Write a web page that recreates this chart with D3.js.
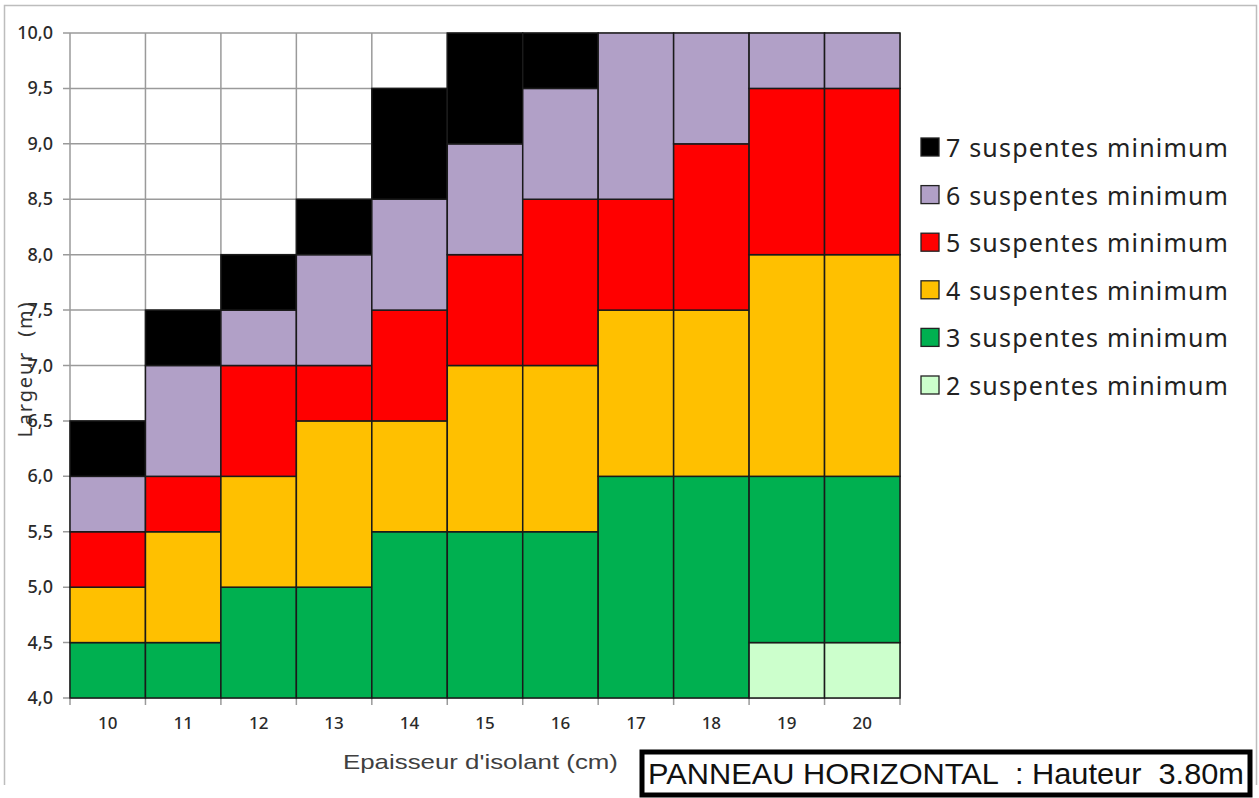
<!DOCTYPE html>
<html><head><meta charset="utf-8">
<script src="https://cdn.jsdelivr.net/npm/d3@7"></script>
<style>body{margin:0;background:#fff}svg{display:block}</style>
</head><body>
<svg id="c" width="1259" height="798"></svg>
<script>
// Data: épaisseur d'isolant (cm) and the upper limit of largeur (m) for each minimum number of suspentes
const thickness = [10, 11, 12, 13, 14, 15, 16, 17, 18, 19, 20];
const top2 = [4.0, 4.0, 4.0, 4.0, 4.0, 4.0, 4.0, 4.0, 4.0, 4.5, 4.5];
const top3 = [4.5, 4.5, 5.0, 5.0, 5.5, 5.5, 5.5, 6.0, 6.0, 6.0, 6.0];
const top4 = [5.0, 5.5, 6.0, 6.5, 6.5, 7.0, 7.0, 7.5, 7.5, 8.0, 8.0];
const top5 = [5.5, 6.0, 7.0, 7.0, 7.5, 8.0, 8.5, 8.5, 9.0, 9.5, 9.5];
const top6 = [6.0, 7.0, 7.5, 8.0, 8.5, 9.0, 9.5, 10.0, 10.0, 10.0, 10.0];
const top7 = [6.5, 7.5, 8.0, 8.5, 9.5, 10.0, 10.0, 10.0, 10.0, 10.0, 10.0];
const yTicks = [4.0, 4.5, 5.0, 5.5, 6.0, 6.5, 7.0, 7.5, 8.0, 8.5, 9.0, 9.5, 10.0];
const seriesNames = ["7 suspentes minimum", "6 suspentes minimum", "5 suspentes minimum", "4 suspentes minimum", "3 suspentes minimum", "2 suspentes minimum"];
const seriesColors = ["#000000", "#b1a0c7", "#ff0000", "#ffc000", "#00b050", "#ccffcc"];

const svg = d3.select("#c");
const m = {l: 70, r: 900, t: 33, b: 698};
const font = "'Noto Sans', 'Open Sans', sans-serif";

// outer frame
svg.append("path").attr("d", `M4.5,785 V5.5 H1256.5 V785`).attr("fill", "none").attr("stroke", "#bdbdbd").attr("stroke-width", 1.5);

const x = d3.scaleBand().domain(thickness).range([m.l, m.r]).padding(0);
const y = d3.scaleLinear().domain([4, 10]).range([m.b, m.t]);

// gridlines
const g = svg.append("g");
g.selectAll("line.h").data(yTicks).join("line")
  .attr("x1", m.l - 7).attr("x2", m.r).attr("y1", d => y(d)).attr("y2", d => y(d))
  .attr("stroke", "#9a9a9a").attr("stroke-width", 1.5);
const vb = thickness.map(t => x(t)).concat([m.r]);
g.selectAll("line.v").data(vb).join("line")
  .attr("x1", d => d).attr("x2", d => d).attr("y1", m.t).attr("y2", m.b + 7)
  .attr("stroke", "#9a9a9a").attr("stroke-width", 1.5);

// segments
const order = [top2, top3, top4, top5, top6, top7];
const cols = ["#ccffcc", "#00b050", "#ffc000", "#ff0000", "#b1a0c7", "#000000"];
const segs = [];
thickness.forEach((t, i) => {
  let prev = 4.0;
  order.forEach((arr, k) => {
    const v = arr[i];
    if (v > prev) segs.push({t, lo: prev, hi: v, c: cols[k]});
    prev = Math.max(prev, v);
  });
});
svg.append("g").selectAll("rect").data(segs).join("rect")
  .attr("x", d => x(d.t)).attr("width", x.bandwidth())
  .attr("y", d => y(d.hi)).attr("height", d => y(d.lo) - y(d.hi))
  .attr("fill", d => d.c).attr("stroke", "#1a1a1a").attr("stroke-width", 1.5);

// y tick labels
svg.append("g").selectAll("text").data(yTicks).join("text")
  .attr("x", 53).attr("y", d => y(d) + 6).attr("text-anchor", "end")
  .attr("font-family", font).attr("font-size", 18).attr("font-weight", 500).attr("fill", "#2a2a2a")
  .text(d => d3.format(".1f")(d).replace(".", ","));

// x tick labels
svg.append("g").selectAll("text").data(thickness).join("text")
  .attr("x", d => x(d) + x.bandwidth() / 2).attr("y", 729).attr("text-anchor", "middle")
  .attr("font-family", font).attr("font-size", 17).attr("font-weight", 500).attr("fill", "#2a2a2a")
  .text(d => d);

// axis titles
svg.append("text").attr("x", 343).attr("y", 769)
  .attr("font-family", "'Liberation Sans', Arial, sans-serif").attr("font-size", 21).attr("fill", "#404040")
  .attr("textLength", 275).attr("lengthAdjust", "spacingAndGlyphs")
  .text("Epaisseur d'isolant (cm)");
svg.append("text").attr("transform", "translate(32,370) rotate(-90)").attr("text-anchor", "middle")
  .attr("font-family", font).attr("font-size", 20).attr("fill", "#333")
  .attr("textLength", 135).attr("lengthAdjust", "spacing")
  .style("white-space", "pre")
  .text("Largeur  (m)");

// legend
const lg = svg.append("g").selectAll("g").data(seriesNames).join("g")
  .attr("transform", (d, i) => `translate(921,${147 + i * 47.6})`);
lg.append("rect").attr("x", 0).attr("y", -9).attr("width", 18).attr("height", 18)
  .attr("fill", (d, i) => seriesColors[i]).attr("stroke", "#222").attr("stroke-width", 1.3);
lg.append("text").attr("x", 25).attr("y", 10).attr("font-family", font).attr("font-size", 25)
  .attr("textLength", 282).attr("lengthAdjust", "spacing")
  .attr("fill", "#222").text(d => d);

// bottom-right caption box
svg.append("rect").attr("x", 642).attr("y", 752).attr("width", 608).attr("height", 43)
  .attr("fill", "none").attr("stroke", "#000").attr("stroke-width", 5);
svg.append("text").attr("x", 648).attr("y", 784)
  .attr("font-family", "'Liberation Sans Narrow', 'Liberation Sans', sans-serif").attr("font-size", 29)
  .attr("textLength", 596).attr("lengthAdjust", "spacingAndGlyphs").attr("fill", "#111")
  .style("white-space", "pre")
  .text("PANNEAU HORIZONTAL  : Hauteur  3.80m");
</script>
</body></html>
